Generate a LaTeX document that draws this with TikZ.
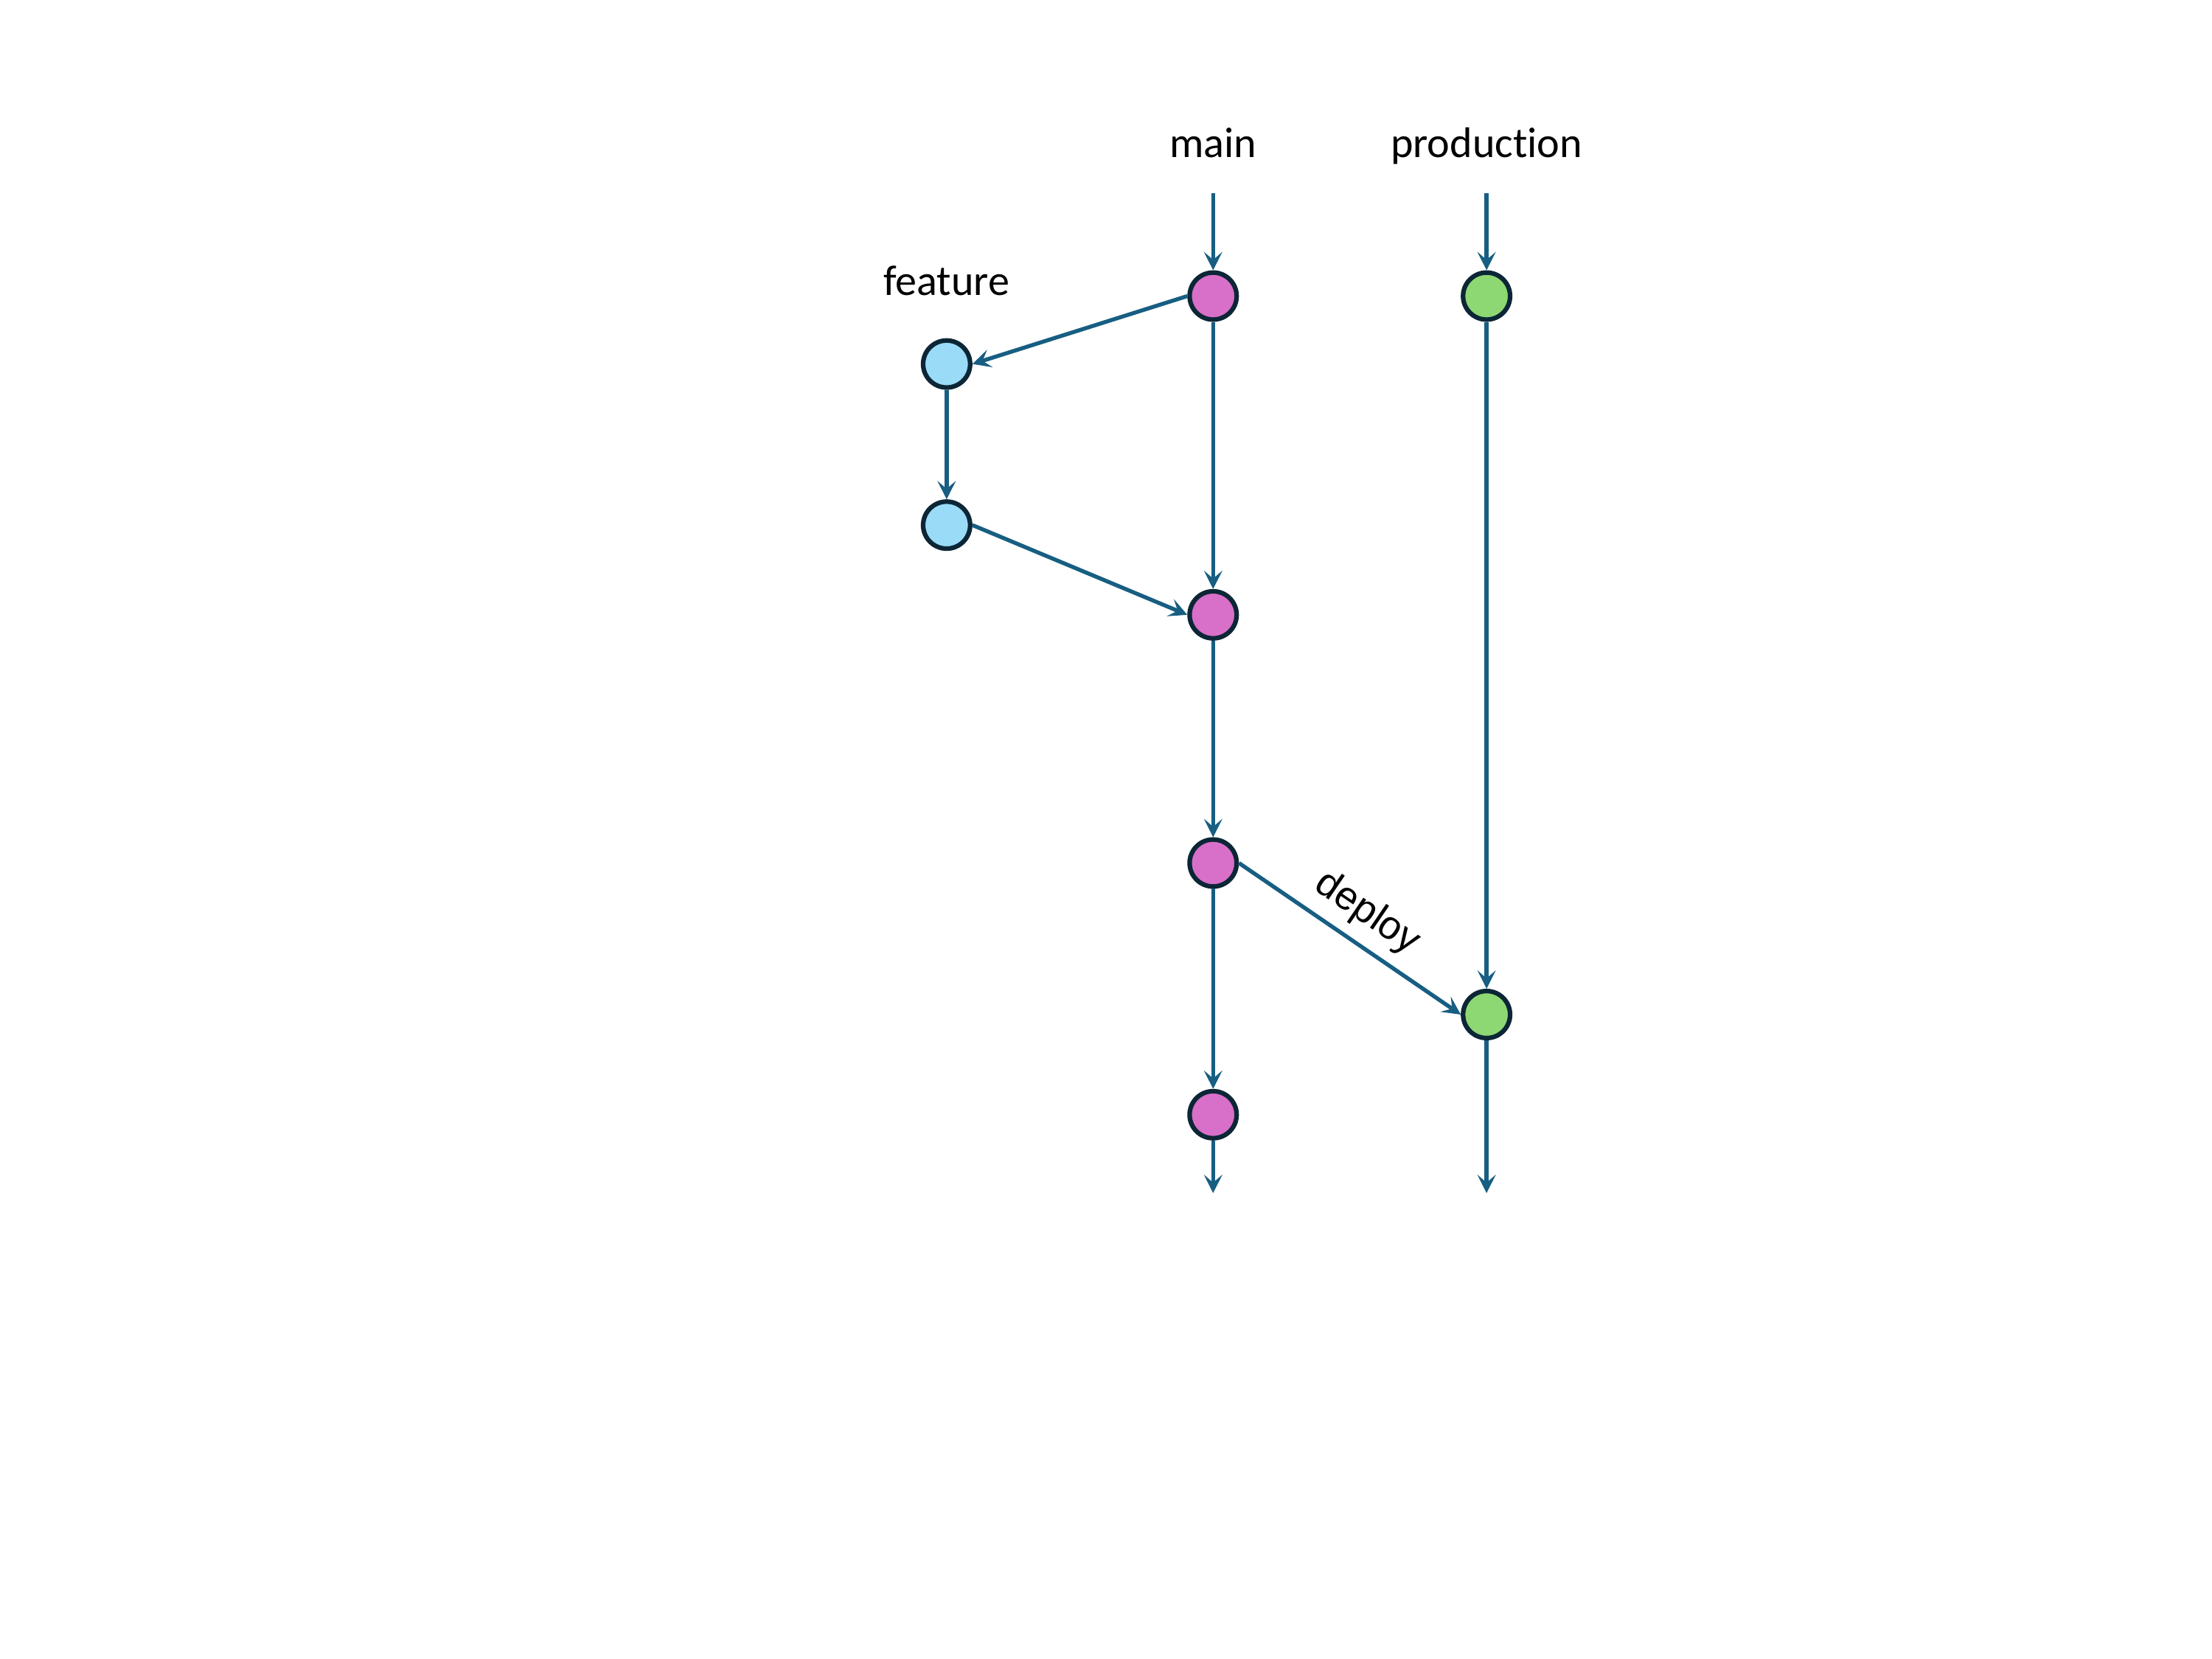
\documentclass[tikz,border=0pt]{standalone}
\usepackage{fontspec}
\setmainfont{Carlito}[Ligatures=NoCommon]
\newfontfamily\deployfont{Liberation Sans}
\usetikzlibrary{arrows.meta}

\definecolor{edgeblue}{RGB}{23,94,130}
\definecolor{rimnavy}{RGB}{12,38,54}
\definecolor{mainpink}{RGB}{216,111,200}
\definecolor{prodgreen}{RGB}{142,216,116}
\definecolor{featblue}{RGB}{154,220,248}

\begin{document}
\begin{tikzpicture}[
    commit/.style={circle, draw=rimnavy, line width=1.5pt, minimum size=5.4mm, inner sep=0pt},
    flow/.style={draw=edgeblue, line width=1.3pt, -{Stealth[length=2.1mm,width=2.1mm,inset=0.9mm]}},
    branch/.style={anchor=base, font=\fontsize{14}{17}\selectfont}
  ]
    \useasboundingbox (0,0) rectangle (25.4,19.05);

    % branch names
    \node[branch] (lmain) at (13.93,17.24) {main};
    \node[branch] (lprod) at (17.07,17.24) {production};
    \node[branch] (lfeat) at (10.87,15.66) {feature};

    % commits
    \node[commit, fill=mainpink] (m1) at (13.93,15.65) {};
    \node[commit, fill=mainpink] (m2) at (13.93,11.99) {};
    \node[commit, fill=mainpink] (m3) at (13.93,9.14) {};
    \node[commit, fill=mainpink] (m4) at (13.93,6.25) {};
    \node[commit, fill=featblue] (f1) at (10.87,14.87) {};
    \node[commit, fill=featblue] (f2) at (10.87,13.02) {};
    \node[commit, fill=prodgreen] (p1) at (17.07,15.65) {};
    \node[commit, fill=prodgreen] (p2) at (17.07,7.40) {};

    \coordinate (mtop) at (13.93,16.83);
    \coordinate (ptop) at (17.07,16.83);
    \coordinate (mend) at (13.93,5.35);
    \coordinate (pend) at (17.07,5.35);

    % history
    \draw[flow] (mtop) -- (m1);
    \draw[flow] (ptop) -- (p1);
    \draw[flow] (m1) -- (m2);
    \draw[flow] (m2) -- (m3);
    \draw[flow] (m3) -- (m4);
    \draw[flow] (m4) -- (mend);
    \draw[flow] (p1) -- (p2);
    \draw[flow] (p2) -- (pend);

    \draw[flow] (m1.west) -- (f1.east);
    \draw[flow] (f1) -- (f2);
    \draw[flow] (f2.east) -- (m2.west);
    \draw[flow] (m3.east) -- node[pos=0.5, above, sloped, font=\deployfont\fontsize{13}{15}\selectfont] {deploy} (p2.west);
  \end{tikzpicture}
\end{document}
